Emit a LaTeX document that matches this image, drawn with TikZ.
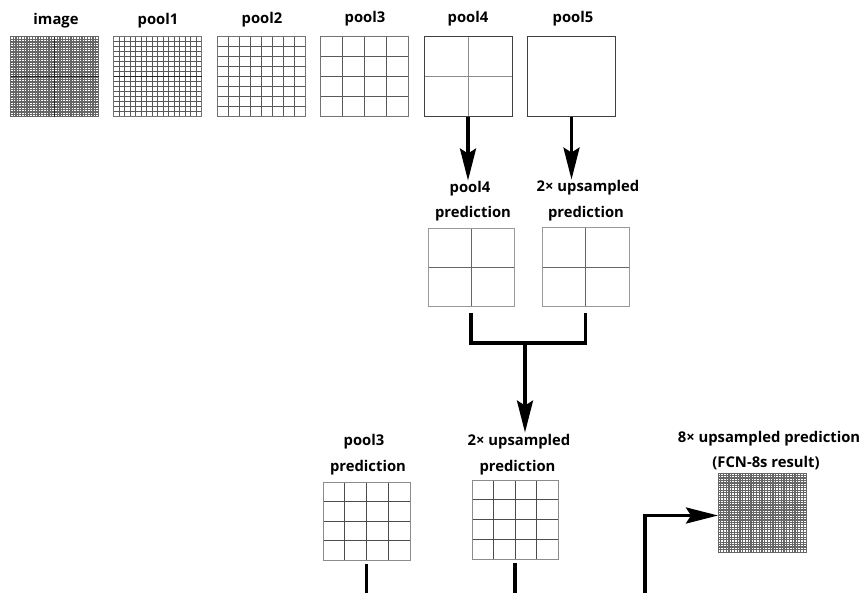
\documentclass[tikz,border=0pt]{standalone}
\usepackage{fontspec}
\setmainfont{Open Sans}
\usetikzlibrary{calc,arrows.meta}

\definecolor{edgec}{gray}{0.45}
\definecolor{gridc}{gray}{0.35}
\definecolor{densec}{gray}{0.40}

\begin{document}
\begin{tikzpicture}[x=1pt,y=-1pt,
  ncell/.store in=\ncell, ncell=1,
  innerline/.style={draw=gridc, line width=1.0pt},
  gbox/.style={draw=edgec, line width=1.0pt, fill=white,
    minimum width=88pt, minimum height=80pt, inner sep=0pt, outer sep=0pt,
    path picture={
      \coordinate (sw) at (path picture bounding box.south west);
      \coordinate (ne) at (path picture bounding box.north east);
      \pgfmathtruncatemacro\nlast{\ncell-1}
      \ifnum\nlast>0
        \foreach \k in {1,...,\nlast}{
          \draw[innerline] ($(sw)!{\k/\ncell}!(sw-|ne)$) -- ($(sw|-ne)!{\k/\ncell}!(ne)$);
          \draw[innerline] ($(sw)!{\k/\ncell}!(sw|-ne)$) -- ($(sw-|ne)!{\k/\ncell}!(ne)$);
        }
      \fi
    }},
  dense/.style={gbox, ncell=32, draw=densec,
    innerline/.style={draw=densec, line width=1.35pt}},
  darkmid/.style={draw=black!85, line width=1.0pt},
  lab/.style={font=\bfseries\fontsize{14.8}{17}\selectfont, inner sep=1pt, anchor=base},
  conn/.style={draw=black, line width=3.5pt},
  arr/.style={conn, -{Stealth[length=32pt,width=16pt,inset=5pt]}}
]
\useasboundingbox (0,0) rectangle (862,593);

% top row: input image and pooling layers
\node[dense] (img) at (54.5,77) {};
\draw[darkmid] (img.north) -- (img.south) (img.west) -- (img.east);
\node[gbox, ncell=16, innerline/.style={draw=gridc, line width=1.0pt}] (pool1) at (157.5,77) {};
\draw[darkmid] (pool1.west) -- (pool1.east);
\node[gbox, ncell=8] (pool2) at (261,77) {};
\node[gbox, ncell=4] (pool3) at (364.5,77) {};
\node[gbox, ncell=2, draw=black!75, innerline/.style={draw=black!45, line width=1.0pt}] (pool4) at (468,77) {};
\node[gbox, ncell=1, draw=black!75] (pool5) at (571.5,77) {};

\node[lab] (limg) at (56,25) {image};
\node[lab] (lp1) at (158,25) {pool1};
\node[lab] (lp2) at (262,24) {pool2};
\node[lab] (lp3) at (365,23) {pool3};
\node[lab] (lp4) at (468,23) {pool4};
\node[lab] (lp5) at (573,23) {pool5};

% first fusion stage
\node[lab] (lp4pa) at (470,193) {pool4};
\node[lab] (lp4pb) at (473,218) {prediction};
\node[lab] (lupa) at (588,192) {2× upsampled};
\node[lab] (lupb) at (586,218) {prediction};

\node[gbox, ncell=2, draw=black!40, minimum width=86pt, minimum height=78pt,
  innerline/.style={draw=black!60, line width=1.0pt}] (p4pred) at (471,268) {};
\node[gbox, ncell=2, draw=black!40, minimum width=87pt, minimum height=79pt,
  innerline/.style={draw=black!60, line width=1.0pt}] (upA) at (585.5,267.5) {};

\draw[arr] (pool4.south) -- (pool4.south |- lp4pa.north);
\draw[arr] (pool5.south) -- (pool5.south |- lupa.north);

\coordinate (merge) at (525,343);
\draw[conn] ([yshift=-6pt]p4pred.south) |- (merge) -| ([yshift=-6pt]upA.south);

% second fusion stage
\node[lab] (lp3pa) at (364,445) {pool3};
\node[lab] (lp3pb) at (368,471) {prediction};
\node[lab] (lupc) at (519,445) {2× upsampled};
\node[lab] (lupd) at (517.5,471) {prediction};

\draw[arr] (merge) -- (merge |- lupc.north);

\node[gbox, ncell=4, draw=black!45, minimum width=87pt, minimum height=78pt,
  innerline/.style={draw=black!70, line width=1.0pt}] (p3pred) at (366.5,521) {};
\node[gbox, ncell=4, draw=black!45, minimum width=86pt, minimum height=79pt,
  innerline/.style={draw=black!70, line width=1.0pt}] (upB) at (515,519.5) {};

% final result
\node[lab] (lfa) at (769,442) {8× upsampled prediction};
\node[lab] (lfb) at (766,467) {(FCN-8s result)};
\node[dense, minimum width=88pt, minimum height=79pt,
  innerline/.style={draw=densec, line width=1.25pt}] (fcn) at (762,512.5) {};

\coordinate (dropA) at (p3pred.south |- 0,600);
\coordinate (dropB) at (upB.south |- 0,600);
\coordinate (feed) at (645,600);
\draw[conn] ([yshift=-4pt]p3pred.south) -- (dropA);
\draw[conn] ([yshift=-4pt]upB.south) -- (dropB);
\draw[arr] (feed) |- ([yshift=-3pt]fcn.west);
\end{tikzpicture}
\end{document}
